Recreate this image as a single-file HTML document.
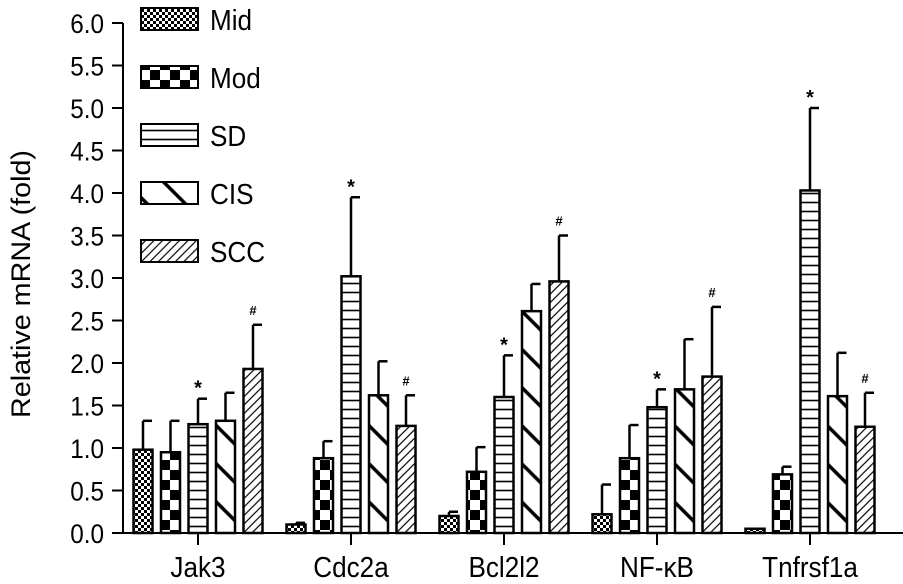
<!DOCTYPE html>
<html><head><meta charset="utf-8"><style>
html,body{margin:0;padding:0;background:#fff;}
svg{display:block;font-family:"Liberation Sans",sans-serif;}
</style></head><body>
<svg id="chart" width="903" height="584" viewBox="0 0 903 584">
<defs>
<pattern id="p-mid" width="6" height="6" patternUnits="userSpaceOnUse"><rect width="6" height="6" fill="#fff"/><rect width="3" height="3" fill="#000"/><rect x="3" y="3" width="3" height="3" fill="#000"/></pattern>
<pattern id="p-mod" width="20" height="20" patternUnits="userSpaceOnUse"><rect width="20" height="20" fill="#fff"/><rect width="10" height="10" fill="#000"/><rect x="10" y="10" width="10" height="10" fill="#000"/></pattern>
<pattern id="p-sd" width="10" height="9" patternUnits="userSpaceOnUse"><rect width="10" height="9" fill="#fff"/><line x1="0" y1="4.5" x2="10" y2="4.5" stroke="#000" stroke-width="1.6"/></pattern>
<pattern id="p-cis" width="27" height="27" patternUnits="userSpaceOnUse" patternTransform="rotate(45)"><rect width="27" height="27" fill="#fff"/><line x1="0" y1="13" x2="27" y2="13" stroke="#000" stroke-width="3.5"/></pattern>
<pattern id="p-scc" width="6" height="6" patternUnits="userSpaceOnUse" patternTransform="rotate(-45)"><rect width="6" height="6" fill="#fff"/><line x1="0" y1="3" x2="6" y2="3" stroke="#000" stroke-width="1.2"/></pattern>
</defs>
<g id="plot"></g>
</svg>
<script>
const categories=["Jak3","Cdc2a","Bcl2l2","NF-κB","Tnfrsf1a"];
const seriesNames=["Mid","Mod","SD","CIS","SCC"];
const midVals=[0.98,0.10,0.20,0.22,0.05];
const modVals=[0.95,0.88,0.72,0.88,0.69];
const sdVals=[1.28,3.02,1.60,1.48,4.03];
const cisVals=[1.32,1.62,2.61,1.69,1.61];
const sccVals=[1.93,1.26,2.96,1.84,1.25];
const midErr=[1.32,0.12,0.25,0.57,0.05];
const modErr=[1.32,1.08,1.01,1.27,0.78];
const sdErr=[1.58,3.95,2.09,1.69,5.00];
const cisErr=[1.65,2.02,2.93,2.28,2.12];
const sccErr=[2.45,1.62,3.50,2.66,1.65];
const sdMarks=["*","*","*","*","*"];
const sccMarks=["#","#","#","#","#"];
const yTicks=[0,0.5,1,1.5,2,2.5,3,3.5,4,4.5,5,5.5,6];

const NS="http://www.w3.org/2000/svg";
const g=document.getElementById('plot');
const y0=533,pxPer=85;
const y=v=>y0-v*pxPer;
const x=(ci,si)=>198+ci*153+(si-2)*27.5;
const BW=19;
function el(t,a,p){const e=document.createElementNS(NS,t);for(const k in a)e.setAttribute(k,a[k]);(p||g).appendChild(e);return e;}
const pats=["p-mid","p-mod","p-sd","p-cis","p-scc"];
const vals=[midVals,modVals,sdVals,cisVals,sccVals];
const errs=[midErr,modErr,sdErr,cisErr,sccErr];

const ya=el('line',{x1:123,y1:y(6),x2:123,y2:y0,stroke:'#000','stroke-width':2});


yTicks.forEach(t=>{
  const tk=el('line',{x1:112,y1:y(t),x2:123,y2:y(t),stroke:'#000','stroke-width':2});
  
  
  const tl=el('text',{x:104,y:y(t)+10,'text-anchor':'end','font-size':27,transform:'translate('+(104*0.1)+',0) scale(0.9,1)'});
  tl.textContent=t.toFixed(1);
  
  
});
const yt=el('text',{x:0,y:0,'text-anchor':'middle','font-size':27,textLength:268,lengthAdjust:'spacingAndGlyphs',transform:'translate(30,284) rotate(-90)'});
yt.textContent='Relative mRNA (fold)';



categories.forEach((c,ci)=>{
  for(let si=0;si<5;si++){
    const v=vals[si][ci],e=errs[si][ci],cx=x(ci,si);
    const eb=el('line',{x1:cx,y1:y(e),x2:cx,y2:y(v),stroke:'#000','stroke-width':2.5});
    
    
    const cap=el('line',{x1:cx,y1:y(e),x2:cx+9,y2:y(e),stroke:'#000','stroke-width':2.5});
    
    
    const r=el('rect',{x:cx-BW/2,y:y(v),width:BW,height:v*pxPer,fill:'url(#'+pats[si]+')',stroke:'#000','stroke-width':2.5});
    
    
    let mk=null;
    if(si===2)mk=sdMarks[ci];
    if(si===4)mk=sccMarks[ci];
    if(mk){
      const m=el('text',{x:cx,y:y(e)-(mk==='*'?4:10),'text-anchor':'middle','font-size':mk==='*'?20:13,'font-weight':'bold'});
      m.textContent=mk;
      
      
    }
  }
  const tx=198+ci*153;
  const ct=el('line',{x1:tx,y1:y0,x2:tx,y2:y0+12,stroke:'#000','stroke-width':2});
  
  
  const cl=el('text',{x:tx,y:577,'text-anchor':'middle','font-size':29,transform:'translate('+(tx*0.1)+',0) scale(0.9,1)'});
  cl.textContent=c;
  
  
});
const xa=el('line',{x1:122,y1:y0,x2:903,y2:y0,stroke:'#000','stroke-width':2});



const legY=[8,66,124,182,240];
seriesNames.forEach((n,i)=>{
  const lr=el('rect',{x:141,y:legY[i],width:57,height:22,fill:'url(#'+pats[i]+')',stroke:'#000','stroke-width':2});
  
  
  const lt=el('text',{x:210,y:legY[i]+22,'font-size':29,transform:'translate(21,0) scale(0.9,1)'});
  lt.textContent=n;
  
  
});
</script>
</body></html>
